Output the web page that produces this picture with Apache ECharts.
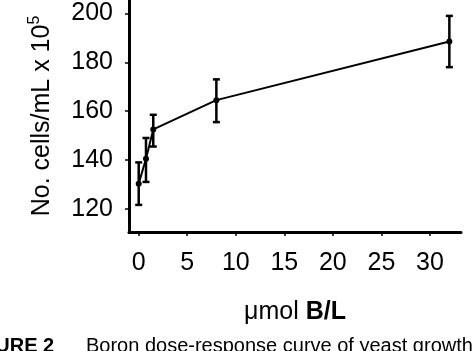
<!DOCTYPE html>
<html>
<head>
<meta charset="utf-8">
<script src="https://cdn.jsdelivr.net/npm/echarts@6/dist/echarts.min.js"></script>
<style>
  html, body { margin: 0; padding: 0; background: #fff; }
  #chart { width: 474px; height: 351px; }
</style>
</head>
<body>
<div id="chart"></div>
<script>
// boron dose (umol B/L) vs yeast cell count
const doses = [0, 0.75, 1.5, 8, 32]
const cells = [130.3, 140.5, 152.5, 164.5, 188.5]
const errLow = [121.6, 131, 145.5, 155.5, 178]
const errHigh = [139, 149, 158.5, 173, 199]
const xTicks = [0, 5, 10, 15, 20, 25, 30]
const yTicks = [120, 140, 160, 180, 200]

const font = '"Liberation Sans", Arial, sans-serif'

const chart = echarts.init(document.getElementById('chart'), null, { renderer: 'canvas' })

chart.setOption({
  animation: false,
  grid: { left: 129, right: 13, top: 0, bottom: 119 },
  xAxis: {
    type: 'value',
    min: -1,
    max: 33.2,
    name: '{m|\u03bcmol }{b|B/L}',
    nameLocation: 'middle',
    nameGap: 68,
    nameTextStyle: {
      rich: {
        m: { fontFamily: font, fontSize: 25, color: '#000' },
        b: { fontFamily: font, fontSize: 25, fontWeight: 'bold', color: '#000' },
      },
    },
    axisLine: { show: true, onZero: false, lineStyle: { color: '#000', width: 3 } },
    axisTick: { show: true, length: 4, customValues: xTicks, lineStyle: { color: '#000', width: 1.5 } },
    axisLabel: { customValues: xTicks, color: '#000', fontFamily: font, fontSize: 25, margin: 19 },
    splitLine: { show: false },
  },
  yAxis: {
    type: 'value',
    min: 110.5,
    max: 205.5,
    name: '{a|No. cells/mL x 10}{s|5}',
    nameLocation: 'middle',
    nameGap: 72,
    nameTextStyle: {
      rich: {
        a: { fontFamily: font, fontSize: 25, color: '#000' },
        s: { fontFamily: font, fontSize: 16, color: '#000', verticalAlign: 'top', padding: [0, 0, 14, 0] },
      },
    },
    axisLine: { show: true, onZero: false, lineStyle: { color: '#000', width: 3 } },
    axisTick: { show: true, length: 4, customValues: yTicks, lineStyle: { color: '#000', width: 1.5 } },
    axisLabel: { customValues: yTicks, color: '#000', fontFamily: font, fontSize: 25, margin: 16 },
    splitLine: { show: false },
  },
  series: [
    {
      type: 'line',
      data: doses.map((d, i) => [d, cells[i]]),
      symbol: 'circle',
      symbolSize: 6,
      itemStyle: { color: '#000' },
      lineStyle: { color: '#000', width: 2 },
      z: 3,
    },
    {
      type: 'custom',
      data: doses.map((d, i) => [d, errLow[i], errHigh[i]]),
      renderItem: (params, api) => {
        const lo = api.coord([api.value(0), api.value(1)])
        const hi = api.coord([api.value(0), api.value(2)])
        const w = 3.5
        const style = { stroke: '#000', lineWidth: 2.5 }
        return {
          type: 'group',
          children: [
            { type: 'line', shape: { x1: hi[0], y1: hi[1], x2: lo[0], y2: lo[1] }, style },
            { type: 'line', shape: { x1: hi[0] - w, y1: hi[1], x2: hi[0] + w, y2: hi[1] }, style },
            { type: 'line', shape: { x1: lo[0] - w, y1: lo[1], x2: lo[0] + w, y2: lo[1] }, style },
          ],
        }
      },
      z: 2,
    },
  ],
  graphic: [
    {
      type: 'text',
      left: -38,
      top: 336,
      style: { text: 'FIGURE 2', font: 'bold 20px ' + font, fill: '#000' },
    },
    {
      type: 'text',
      left: 86,
      top: 336,
      style: { text: 'Boron dose-response curve of yeast growth', font: '20px ' + font, fill: '#000' },
    },
  ],
})
</script>
</body>
</html>
